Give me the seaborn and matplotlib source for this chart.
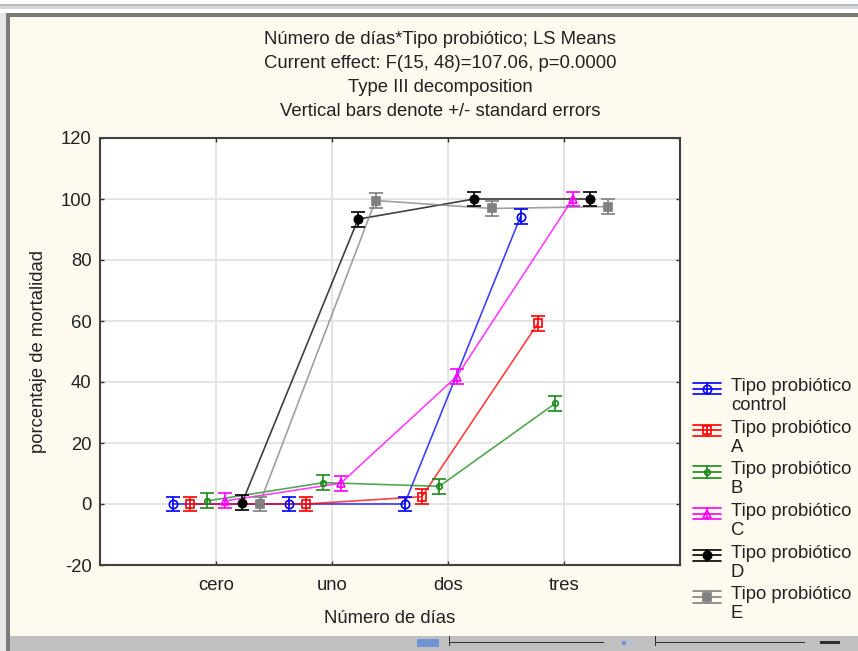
import numpy as np
import pandas as pd
import matplotlib
matplotlib.use("Agg")
import matplotlib.pyplot as plt
import seaborn as sns
from matplotlib.lines import Line2D
from matplotlib.patches import Rectangle
from matplotlib.legend_handler import HandlerBase

# data
dias = ['cero', 'uno', 'dos', 'tres']
tipos = ['control', 'A', 'B', 'C', 'D', 'E']
control = [0, 0, 0, 94.2]
tipo_a = [0, 0, 2.4, 59.2]
tipo_b = [1.0, 7.0, 5.8, 33.0]
tipo_c = [1.0, 6.8, 41.8, 100]
tipo_d = [0.4, 93.4, 100, 100]
tipo_e = [0, 99.5, 96.9, 97.5]
se = 2.45

series = [control, tipo_a, tipo_b, tipo_c, tipo_d, tipo_e]
colores = ['#0000ff', '#ff0000', '#1a8a1a', '#ff00ff', '#000000', '#808080']
marcas = ['o', 's', 'o', '^', 'o', 's']
relleno = ['none', 'none', 'none', 'none', '#000000', '#808080']
tam = [6, 6, 4, 6, 6, 6]
desplaz = [-0.375, -0.225, -0.075, 0.075, 0.225, 0.375]

rows = []
for j, t in enumerate(tipos):
    for i, d in enumerate(dias):
        rows.append({'tipo': t, 'pos': i + desplaz[j], 'valor': series[j][i]})
df = pd.DataFrame(rows)

sns.set_style("white")
plt.rcParams['font.family'] = ['Liberation Sans', 'DejaVu Sans']
plt.rcParams['axes.unicode_minus'] = False
fs = 13.3

bg = '#fffaf0'
fig = plt.figure(figsize=(8.58, 6.51), dpi=100, facecolor=bg)
W, H = 858, 651


def fr(x, y, w, h, c):
    fig.add_artist(Rectangle((x / W, 1 - (y + h) / H), w / W, h / H,
                             transform=fig.transFigure, color=c, lw=0, zorder=0))


# window frame
fr(0, 0, W, 13, '#ffffff')
fr(0, 4, W, 2, '#b8bcc6')
fr(0, 6, W, 3, '#d4d7de')
fr(0, 13, W, 4, '#7a7a7a')
fr(0, 13, 6, H, '#e8e8e8')
fr(6, 13, 4, H, '#7a7a7a')
fr(10, 636, W, 15, '#c0c0c0')
fr(417, 639, 22, 8, '#6f95d6')
fr(449, 642, 155, 1, '#303030')
fr(655, 642, 150, 1, '#303030')
fr(449, 636, 1, 10, '#303030')
fr(655, 636, 1, 10, '#303030')
fr(622, 641, 4, 4, '#6f95d6')
fr(629, 641, 4, 4, '#a8c0e8')
fr(820, 641, 20, 3, '#303030')

ax = fig.add_axes([100 / W, 1 - 565 / H, 580 / W, 427 / H])
ax.set_facecolor('white')

sns.lineplot(data=df, x='pos', y='valor', hue='tipo', hue_order=tipos,
             palette=colores, ax=ax, legend=False, lw=1.2, alpha=0.75,
             estimator=None, sort=True)

for j, t in enumerate(tipos):
    x = np.arange(len(dias)) + desplaz[j]
    ax.errorbar(x, series[j], yerr=se, fmt=marcas[j], color=colores[j],
                mfc=relleno[j], mec=colores[j], ms=tam[j], mew=1.2,
                capsize=5, capthick=1.2, elinewidth=1.2, zorder=3)

ax.set_xlim(-1, 4)
ax.set_ylim(-20, 120)
ax.set_xticks(range(len(dias)))
ax.set_xticklabels(dias)
ax.set_yticks(range(-20, 121, 20))
ax.grid(True, color='#e2e2e2', lw=1.3)
ax.set_axisbelow(True)
ax.tick_params(direction='in', length=3, width=1, top=True, right=True,
               bottom=True, left=True, labelsize=fs, pad=6, colors='#303030',
               labelcolor='#222222')
ax.tick_params(axis='x', pad=9)
for s in ax.spines.values():
    s.set_color('#404040')
    s.set_linewidth(1.5)
ax.set_xlabel('Número de días', fontsize=fs, labelpad=11, color='#222222')
ax.set_ylabel('porcentaje de mortalidad', fontsize=fs, labelpad=10, color='#222222')

titulos = ['Número de días*Tipo probiótico; LS Means',
           'Current effect: F(15, 48)=107.06, p=0.0000',
           'Type III decomposition',
           'Vertical bars denote +/- standard errors']
for k, (t, y) in enumerate(zip(titulos, [40, 63, 87, 111])):
    fig.text(440 / W, 1 - y / H, t, ha='center', va='center', fontsize=fs,
             color='#222222')


class ErrHandler(HandlerBase):
    def create_artists(self, legend, h, xd, yd, w, hh, fsz, trans):
        c = h.get_color()
        ym = -yd + hh / 2 + 0.4 * fsz
        d = 0.3 * fsz
        xs = [-xd, -xd + w]
        xc = -xd + w / 2
        arts = [Line2D(xs, [ym + d] * 2, color=c, lw=1.2),
                Line2D(xs, [ym] * 2, color=c, lw=1.2),
                Line2D(xs, [ym - d] * 2, color=c, lw=1.2),
                Line2D([xc, xc], [ym - d, ym + d], color=c, lw=1.2),
                Line2D([xc], [ym], marker=h.get_marker(), color=c,
                       mfc=h.get_markerfacecolor(), mec=c,
                       ms=h.get_markersize(), mew=1.2)]
        for a in arts:
            a.set_transform(trans)
        return arts


handles = [Line2D([], [], color=colores[j], marker=marcas[j], mfc=relleno[j],
                  ms=tam[j]) for j in range(len(tipos))]
labels = ['Tipo probiótico\n' + t for t in tipos]
leg = ax.legend(handles, labels, handler_map={Line2D: ErrHandler()},
                loc='upper left', bbox_to_anchor=(693 / W, 1 - 378 / H),
                bbox_transform=fig.transFigure, frameon=False, fontsize=fs,
                handlelength=1.5, handletextpad=0.55, labelspacing=0.31,
                borderpad=0, borderaxespad=0, labelcolor='#222222')
for t in leg.get_texts():
    t.set_linespacing(1.15)

fig.savefig('out.png', dpi=100, facecolor=bg)
